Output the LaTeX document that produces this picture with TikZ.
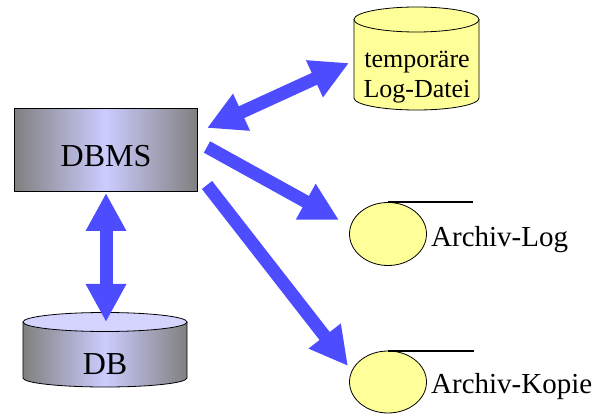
\documentclass[tikz,border=0pt]{standalone}
\usepackage{fontspec}
\setmainfont{Liberation Serif}
\usetikzlibrary{arrows.meta,shapes.geometric}
\definecolor{arrowblue}{RGB}{77,77,255}
\definecolor{lav}{RGB}{204,204,255}
\definecolor{lavtop}{RGB}{212,212,255}
\definecolor{midgray}{RGB}{128,128,128}
\definecolor{paleyellow}{RGB}{255,255,153}
\begin{document}
\begin{tikzpicture}[x=1pt,y=1pt,
  bigarrow/.style={draw=arrowblue, line width=13pt, >={Triangle[length=38pt,width=38pt]}},
  grayshade/.style={left color=midgray, right color=midgray, middle color=lav},
  bigtext/.style={font=\fontsize{32}{36}\selectfont, inner sep=0pt},
  medtext/.style={font=\fontsize{29}{32}\selectfont, inner sep=0pt},
  smalltext/.style={font=\fontsize{26}{30}\selectfont, inner sep=0pt},
  archive/.style={ellipse, draw, line width=0.8pt, fill=paleyellow, inner sep=0pt, minimum width=77pt, minimum height=63pt}
]
\useasboundingbox (0,0) rectangle (595,-414);

% DBMS box
\node[draw, line width=1pt, minimum width=183pt, minimum height=83pt, inner sep=0pt, grayshade] (dbms) at (105.5,-150.5) {};
\node[bigtext, anchor=base] (dbmstext) at (106,-167) {DBMS};

% DB cylinder
\shade[grayshade] (23,-322) -- (23,-378) arc[start angle=180,end angle=360,x radius=82pt,y radius=9pt] -- (187,-322) -- cycle;
\draw[line width=0.8pt] (23,-322) -- (23,-378) arc[start angle=180,end angle=360,x radius=82pt,y radius=9pt] -- (187,-322);
\draw[line width=0.8pt, fill=lavtop] (105,-322) ellipse [x radius=82pt, y radius=9.5pt];
\node[bigtext, anchor=base] (dbtext) at (105,-374) {DB};

% temporary log cylinder
\draw[line width=0.8pt, fill=paleyellow] (354,-19.5) -- (354,-98) arc[start angle=180,end angle=360,x radius=62.5pt,y radius=12pt] -- (479,-19.5) -- cycle;
\draw[line width=0.8pt, fill=paleyellow] (416.5,-19.5) ellipse [x radius=62.5pt, y radius=12.5pt];
\node[smalltext, anchor=base] (tmp1) at (417,-68) {temporäre};
\node[smalltext, anchor=base] (tmp2) at (417,-98) {Log-Datei};

% archive log
\node[archive] (alog) at (388,-234) {};
\draw[line width=2pt] (alog.north) -- ++(85,0) coordinate (alogend);
\node[medtext, anchor=base west] (alogtext) at (431,-247) {Archiv-Log};

% archive copy
\node[archive, minimum height=62pt] (akop) at (388,-382) {};
\draw[line width=2pt] (akop.north) -- ++(86,0) coordinate (akopend);
\node[medtext, anchor=base west] (akoptext) at (431,-393) {Archiv-Kopie};

% arrow end points
\coordinate (dbmsA) at (207,-128);
\coordinate (tmpA) at (349,-63);
\coordinate (dbmsB) at (207,-147);
\coordinate (alogA) at (339,-220);
\coordinate (dbmsC) at (207,-185);
\coordinate (akopA) at (348,-366);
\coordinate (dbmsD) at (106,-193);
\coordinate (dbA) at (106,-322);

\draw[bigarrow,<->] (dbmsA) -- (tmpA);
\draw[bigarrow,->] (dbmsB) -- (alogA);
\draw[bigarrow,->] (dbmsC) -- (akopA);
\draw[bigarrow,<->] (dbmsD) -- (dbA);
\end{tikzpicture}
\end{document}
